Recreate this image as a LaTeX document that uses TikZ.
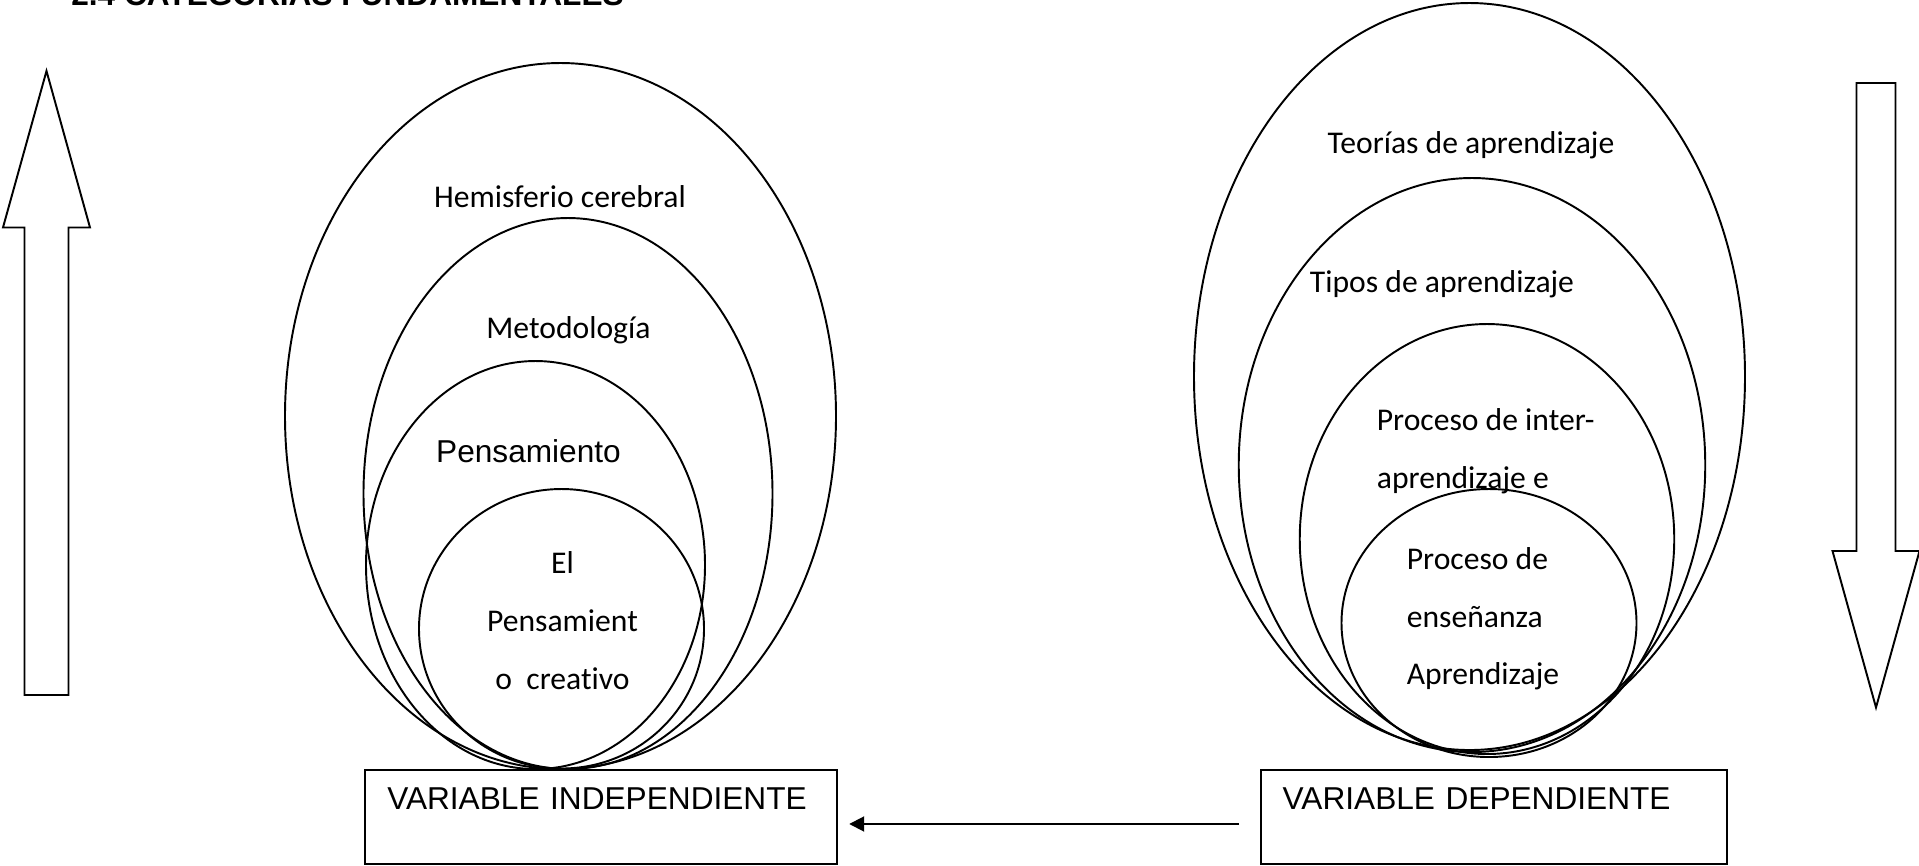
\documentclass[tikz,border=0pt]{standalone}
\usepackage{fontspec}
\setmainfont{Carlito}[Ligatures=NoCommon]
\newfontfamily\arialfont{Liberation Sans}
\usetikzlibrary{shapes.geometric,arrows.meta,positioning}
\tikzstyle{ring} = [ellipse, draw, line width=1.1pt, inner sep=0pt, anchor=south]
\tikzstyle{varbox} = [rectangle, draw, line width=1.1pt, minimum height=1.88cm, inner xsep=0.44cm, align=left, font=\arialfont\fontsize{18}{20.7}\selectfont]
\tikzstyle{lbl} = [inner sep=0pt, anchor=base, font=\fontsize{18}{33}\selectfont]
\tikzstyle{bigarrow} = [draw, line width=1.1pt, line join=miter]
\tikzstyle{link} = [line width=1.1pt, -{Triangle[length=0.3cm,width=0.3cm]}, shorten <=0.41cm, shorten >=0.23cm]

\begin{document}
\begin{tikzpicture}
\useasboundingbox (0,0) rectangle (38.38,17.32);

% Title (cut at the page top)
\node[anchor=base west, inner sep=0pt, font=\arialfont\bfseries\fontsize{18}{21}\selectfont] (title) at (1.42,17.20) {2.4 CATEGORÍAS FUNDAMENTALES};

% Variable boxes
\node[varbox, text width=8.55cm] (indep) at (12.02,0.98) {VARIABLE INDEPENDIENTE\\ \mbox{}};
\node[varbox, text width=8.45cm, right=8.44cm of indep] (dep) {VARIABLE DEPENDIENTE\\ \mbox{}};

% Independent variable rings
\node[ring, minimum width=11.02cm, minimum height=14.12cm] (hemis) at (11.21,1.92) {};
\node[ring, minimum width=8.18cm, minimum height=11.02cm] (metod) at (11.36,1.92) {};
\node[ring, minimum width=6.78cm, minimum height=8.16cm] (pens) at (10.71,1.92) {};
\node[ring, minimum width=5.70cm, minimum height=5.59cm] (creat) at (11.23,1.93) {};

\node[lbl] (hemisL) at (11.20,13.16) {Hemisferio cerebral};
\node[lbl] (metodL) at (11.37,10.54) {Metodología};
\node[lbl, font=\arialfont\fontsize{18}{21}\selectfont] (pensL) at (10.57,8.07) {Pensamiento};
\node[lbl, align=center] (creatL) at (11.25,3.53) {El\\Pensamient\\o\ \ creativo};

% Dependent variable rings
\node[ring, minimum width=11.02cm, minimum height=14.94cm] (teor) at (29.39,2.30) {};
\node[ring, minimum width=9.33cm, minimum height=11.48cm] (tipos) at (29.44,2.26) {};
\node[ring, minimum width=7.49cm, minimum height=8.60cm] (inter) at (29.74,2.22) {};
\node[ring, minimum width=5.90cm, minimum height=5.36cm] (ensen) at (29.78,2.16) {};

\node[lbl] (teorL) at (29.42,14.24) {Teorías de aprendizaje};
\node[lbl] (tiposL) at (28.84,11.46) {Tipos de aprendizaje};
\node[lbl, anchor=base west, align=left] (interL) at (27.53,7.55) {Proceso de inter-\\aprendizaje e};
\node[lbl, anchor=base west, align=left] (ensenL) at (28.13,3.62) {Proceso de\\enseñanza\\Aprendizaje};

% Side arrows
\draw[bigarrow] (0.93,15.90) -- (1.80,12.77) -- (1.37,12.77) -- (1.37,3.42) -- (0.49,3.42) -- (0.49,12.77) -- (0.06,12.77) -- cycle;
\draw[bigarrow] (37.52,3.17) -- (38.39,6.30) -- (37.91,6.30) -- (37.91,15.66) -- (37.13,15.66) -- (37.13,6.30) -- (36.65,6.30) -- cycle;

% Link between variables
\draw[link] ([yshift=-0.14cm]dep.west) -- ([yshift=-0.14cm]indep.east);
\end{tikzpicture}
\end{document}
